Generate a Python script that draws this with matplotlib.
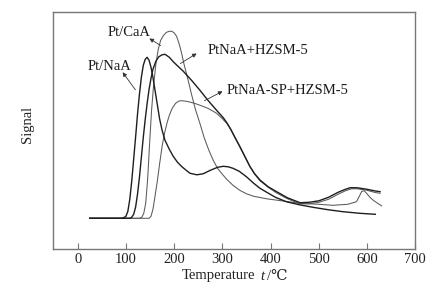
import matplotlib
matplotlib.use("Agg")
import matplotlib.pyplot as plt

plt.rcParams['font.family'] = ['Liberation Serif', 'DejaVu Serif']

# Pt/NaA (dark)
nao_t = [25, 60, 90, 95, 100, 104, 108, 112, 116, 120, 124, 128, 132, 136, 140, 144,
         148, 152, 156, 160, 165, 170, 175, 181, 190, 198, 207, 216, 225, 233, 247,
         260, 275, 290, 302, 312, 322, 335, 350, 365, 378, 392, 410, 433, 460, 488,
         520, 550, 585, 617]
nao_s = [31, 31, 31, 31.5, 33, 38, 50, 68, 90, 112, 135, 155, 172, 184, 190, 192,
         189, 182, 172, 160, 145, 130, 119, 109, 100, 93, 87, 82.6, 79, 76, 74.5,
         75.5, 79, 82, 83, 82.5, 81, 78, 72.5, 66, 61, 57, 52, 47.5, 44.5, 42,
         39.5, 37.6, 36, 35]

# Pt/CaA (gray)
caa_t = [25, 60, 100, 128, 133, 137, 141, 145, 149, 153, 157, 162, 167, 172, 178,
         184, 190, 195, 200, 205, 210, 215, 220, 229, 236, 244, 254, 262, 272, 281,
         290, 300, 309, 322, 336, 350, 365, 392, 430, 461, 500, 529, 560, 578, 585,
         589, 594, 599, 606, 613, 622, 630]
caa_s = [31, 31, 31, 31, 32, 36, 46, 70, 105, 138, 162, 185, 200, 209, 214,
         217, 218, 218, 216.5, 213, 206, 197, 186, 169, 155, 140, 125, 112, 99, 89,
         81, 75, 70, 64, 59, 55.5, 53, 50.5, 48, 46, 45, 44, 45, 47.6, 54,
         58, 58.5, 56, 52, 49, 46, 43.5]

# PtNaA+HZSM-5 (dark)
hz_t = [25, 60, 100, 108, 112, 116, 120, 124, 128, 132, 136, 140, 144, 148, 152,
        156, 162, 168, 175, 181, 190, 198, 208, 219, 236, 253.5, 270, 288, 302, 310,
        318, 326, 336.5, 347, 357, 367, 378, 395, 412.5, 435, 461, 480, 500, 520, 540,
        555, 565, 580, 600, 615, 627]
hz_s = [31, 31, 31, 31, 32, 35, 42, 55, 72, 92, 112, 130, 146, 160, 171,
        180, 188, 192.5, 194.5, 195, 192, 187.6, 183, 178, 169, 159, 149, 139, 131.5, 126,
        119.5, 112, 102.6, 92.5, 83, 75.5, 69.3, 62.5, 57.6, 51.5, 46.6, 47, 48.5, 52, 57,
        60, 61.6, 61.5, 60, 58.5, 57.6]

# PtNaA-SP+HZSM-5 (gray)
sp_t = [25, 60, 100, 140, 148, 152, 156, 160, 165, 170, 175, 180, 185, 190, 196,
        203, 210, 216, 225, 235, 245, 254, 270, 288, 300, 310, 318, 326, 336.5, 347, 357,
        367, 378, 395, 412, 435, 461, 480, 500, 520, 540, 555, 568, 580, 600, 615, 627]
sp_s = [31, 31, 31, 31, 31, 33, 40, 52, 68, 86, 103, 116, 126, 134, 141,
        146, 148.3, 148.6, 148, 147, 145.5, 144, 141, 136, 130.5, 125.5, 119, 111.5, 102, 92, 82.5,
        75, 68.5, 62, 56.5, 50.5, 45.5, 45.5, 47, 50, 55, 58.5, 60.5, 60.5, 59, 57, 56]

xticks = [0, 100, 200, 300, 400, 500, 600, 700]

fig = plt.figure(figsize=(4.36, 2.95), dpi=100)
ax = fig.add_axes([53.3 / 436, 1 - 249.3 / 295, (415.3 - 53.3) / 436, (249.3 - 12.3) / 295])

dark = '#1e1e1e'
gray = '#5a5a5a'
ax.plot(caa_t, caa_s, color=gray, lw=0.75)
ax.plot(sp_t, sp_s, color=gray, lw=0.75)
ax.plot(nao_t, nao_s, color=dark, lw=1.0)
ax.plot(hz_t, hz_s, color=dark, lw=1.0)

ax.set_xlim(-50.6, 700)
ax.set_ylim(0, 237)
ax.set_xticks(xticks)
ax.set_xticklabels([str(v) for v in xticks], fontsize=10.5, color='#222222')
ax.set_yticks([])
ax.tick_params(axis='x', direction='in', length=4, width=0.8, color='#777777', pad=3)
for sp in ax.spines.values():
    sp.set_color('#777777')
    sp.set_linewidth(1.0)

def px2data(px, py):
    return ((px - 77.7) / 0.4823, 249.3 - py)

arrowprops = dict(arrowstyle='-|>', color='#333333', lw=0.6, mutation_scale=6)
labels = [
    ("Pt/CaA", (147, 37), (163, 47), (108, 33)),
    ("Pt/NaA", (121, 70), (137, 92), (88, 67)),
    ("PtNaA+HZSM-5", (199, 52), (178, 65), (208, 50)),
    ("PtNaA-SP+HZSM-5", (225, 90), (202, 102), (227, 90)),
]
for txt, head, tail, tpos in labels:
    ax.annotate('', xy=px2data(*head), xytext=px2data(*tail), arrowprops=arrowprops)
    ax.text(*px2data(*tpos), txt, fontsize=10.5, va='center', ha='left', color='#1a1a1a')

fig.text(27.5 / 436, 1 - 124 / 295, 'Signal', rotation=90, ha='center', va='center',
         fontsize=10.5, color='#222222')
fig.text(181.7 / 436, 1 - 276 / 295, 'Temperature', ha='left', va='center',
         fontsize=10.5, color='#222222')
fig.text(260 / 436, 1 - 276 / 295, 't', ha='left', va='center', style='italic',
         fontsize=10.5, color='#222222')
fig.text(267 / 436, 1 - 276 / 295, '/\u2103', ha='left', va='center',
         fontsize=10.5, color='#222222')

fig.savefig('out.png', dpi=100)
